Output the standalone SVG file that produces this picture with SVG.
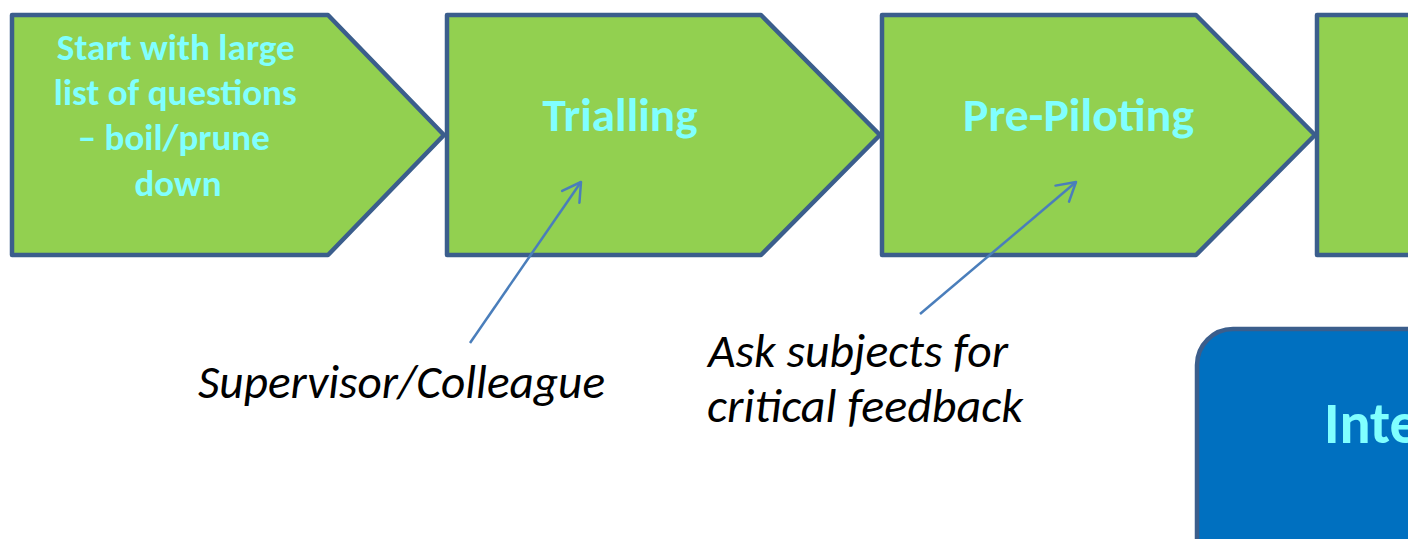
<svg xmlns="http://www.w3.org/2000/svg" width="1408" height="539" viewBox="0 0 1408 539">
<style>
.step{fill:#92D050;stroke:#3B5E8C;stroke-width:4.5;stroke-linejoin:round}
.box{fill:#0070C0;stroke:#3B5E8C;stroke-width:4.5}
.lbl{font-family:Carlito,Lato,"Liberation Sans",sans-serif;font-weight:bold;fill:#80FFFF;text-anchor:middle}
.note{font-family:Carlito,Lato,"Liberation Sans",sans-serif;font-style:italic;fill:#000}
.conn{stroke:#4A7EBB;stroke-width:2.5;fill:none}
</style>
<defs>
<marker id="open" markerUnits="userSpaceOnUse" markerWidth="30" markerHeight="30" viewBox="-25 -15 30 30" refX="0" refY="0" orient="auto">
<path d="M-18,-10.5 L0,0 L-18,10.5" fill="none" stroke="#4A7EBB" stroke-width="2.5" stroke-linecap="round" stroke-linejoin="round"/>
</marker>
</defs>
<rect width="1408" height="539" fill="#fff"/>
<g id="step1">
<polygon class="step" points="12,15 328,15 444,135 328,255 12,255"/>
<text class="lbl" font-size="37">
<tspan x="180" y="60" textLength="238" lengthAdjust="spacingAndGlyphs">Start with large</tspan>
<tspan x="179.5" y="105" textLength="243" lengthAdjust="spacingAndGlyphs">list of questions</tspan>
<tspan x="178" y="150" textLength="192" lengthAdjust="spacingAndGlyphs">– boil/prune</tspan>
<tspan x="178" y="196" textLength="87" lengthAdjust="spacingAndGlyphs">down</tspan>
</text>
</g>
<g id="step2">
<polygon class="step" points="447,15 761,15 880,135 761,255 447,255"/>
<text class="lbl" font-size="46" x="620" y="131" textLength="155" lengthAdjust="spacingAndGlyphs">Trialling</text>
</g>
<g id="step3">
<polygon class="step" points="882,15 1196,15 1315,135 1196,255 882,255"/>
<text class="lbl" font-size="46" x="1078.5" y="131" textLength="231" lengthAdjust="spacingAndGlyphs">Pre-Piloting</text>
</g>
<g id="step4">
<polygon class="step" points="1317,15 1430,15 1430,255 1317,255"/>
</g>
<g id="interview">
<rect class="box" x="1197" y="329" width="400" height="300" rx="36" ry="36"/>
<text class="lbl" font-size="58" x="1324" y="443" style="text-anchor:start">Inte</text>
</g>
<g id="note1">
<text class="note" font-size="47" x="198" y="398" textLength="407" lengthAdjust="spacingAndGlyphs">Supervisor/Colleague</text>
</g>
<g id="note2">
<text class="note" font-size="47">
<tspan x="708" y="367" textLength="300" lengthAdjust="spacingAndGlyphs">Ask subjects for</tspan>
<tspan x="707" y="422" textLength="316" lengthAdjust="spacingAndGlyphs">critical feedback</tspan>
</text>
</g>
<g id="connectors">
<line class="conn" x1="470" y1="343" x2="581" y2="182" marker-end="url(#open)"/>
<line class="conn" x1="920" y1="314" x2="1076" y2="182" marker-end="url(#open)"/>
</g>
</svg>
